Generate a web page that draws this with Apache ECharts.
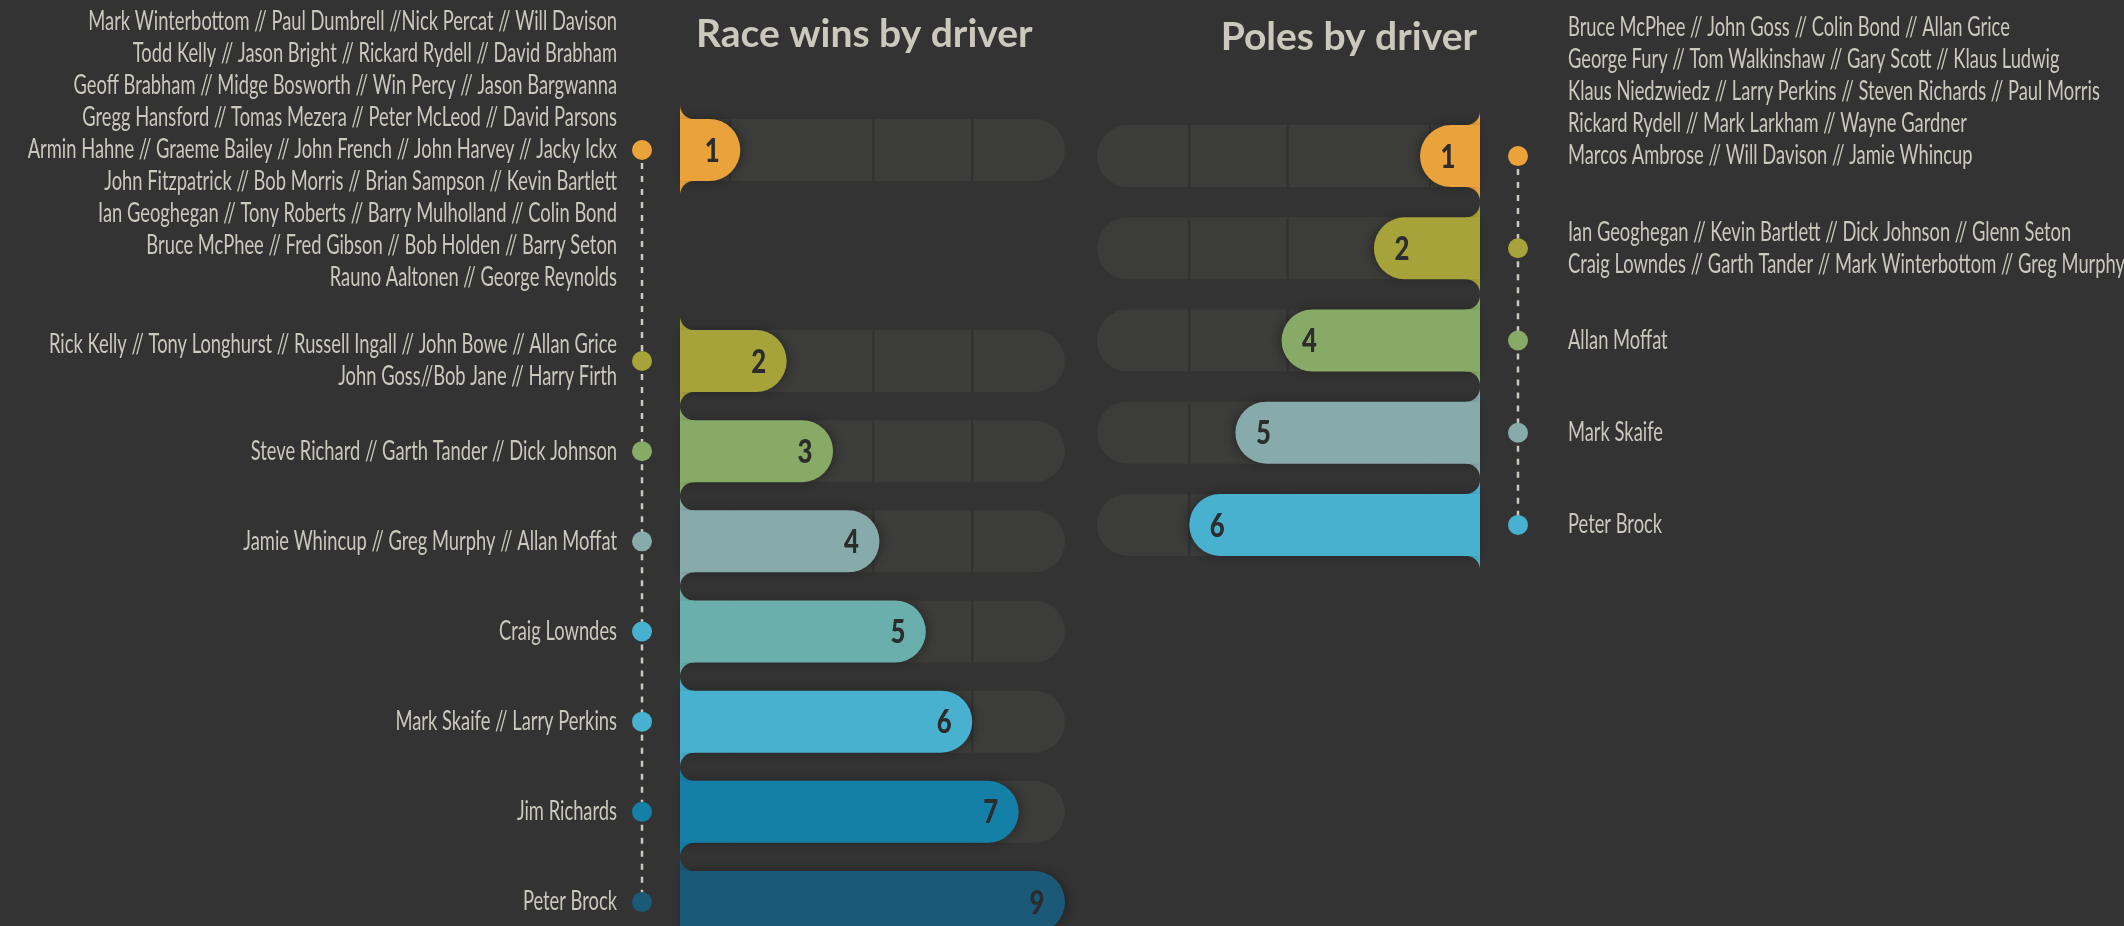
<!DOCTYPE html>
<html><head><meta charset="utf-8">
<script src="https://cdn.jsdelivr.net/npm/echarts@6/dist/echarts.min.js"></script>
<style>html,body{margin:0;padding:0;background:#333333;}#chart{width:2124px;height:926px;}</style>
</head><body><div id="chart"></div>
<script>
// ---------------- data ----------------
const winsCategories = ['1','2','3','4','5','6','7','9'];
const winsValues = [1,2,3,4,5,6,7,9];
const winsNames = [
  ['Mark Winterbottom // Paul Dumbrell //Nick Percat // Will Davison',
   'Todd Kelly // Jason Bright // Rickard Rydell // David Brabham',
   'Geoff Brabham // Midge Bosworth // Win Percy // Jason Bargwanna',
   'Gregg Hansford // Tomas Mezera // Peter McLeod // David Parsons',
   'Armin Hahne // Graeme Bailey // John French // John Harvey // Jacky Ickx',
   'John Fitzpatrick // Bob Morris // Brian Sampson // Kevin Bartlett',
   'Ian Geoghegan // Tony Roberts // Barry Mulholland // Colin Bond',
   'Bruce McPhee // Fred Gibson // Bob Holden // Barry Seton',
   'Rauno Aaltonen // George Reynolds'],
  ['Rick Kelly // Tony Longhurst // Russell Ingall // John Bowe // Allan Grice',
   'John Goss//Bob Jane // Harry Firth'],
  ['Steve Richard // Garth Tander // Dick Johnson'],
  ['Jamie Whincup // Greg Murphy // Allan Moffat'],
  ['Craig Lowndes'],
  ['Mark Skaife // Larry Perkins'],
  ['Jim Richards'],
  ['Peter Brock']
];
const polesCategories = ['1','2','4','5','6'];
const polesValues = [1,2,4,5,6];
const polesNames = [
  ['Bruce McPhee // John Goss // Colin Bond // Allan Grice',
   'George Fury // Tom Walkinshaw // Gary Scott // Klaus Ludwig',
   'Klaus Niedzwiedz // Larry Perkins // Steven Richards // Paul Morris',
   'Rickard Rydell // Mark Larkham // Wayne Gardner',
   'Marcos Ambrose // Will Davison // Jamie Whincup'],
  ['Ian Geoghegan // Kevin Bartlett // Dick Johnson // Glenn Seton',
   'Craig Lowndes // Garth Tander // Mark Winterbottom // Greg Murphy'],
  ['Allan Moffat'],
  ['Mark Skaife'],
  ['Peter Brock']
];
const titles = ['Race wins by driver', 'Poles by driver'];

// ---------------- styles ----------------
const ORANGE='#E9A33A', OLIVE='#A6A33A', GREEN='#87AA66', GRAYTEAL='#87AAAB',
      TEAL='#6AAFAC', LBLUE='#48B1D0', BLUE='#1480A7', DBLUE='#1B5978';
const winsBarColors = [ORANGE, OLIVE, GREEN, GRAYTEAL, TEAL, LBLUE, BLUE, DBLUE];
const winsDotColors = [ORANGE, OLIVE, GREEN, GRAYTEAL, LBLUE, LBLUE, BLUE, DBLUE];
const polesBarColors = [ORANGE, OLIVE, GREEN, GRAYTEAL, LBLUE];
const BG = '#333333', TRACK = '#3C3C3B', DIVIDER = '#313131', TEXT = '#CBC8BE';
const AX_MIN = -0.3, AX_MAX = 8;
const BAR_H = 62, FLARE_R = 14, DOT_GAP = 38, LINE_H = 32;
const NAME_FONT = 26, NAME_SCALE = 0.705;
const DIVIDERS = [0.78, 3.87, 6.0];

function flare(x0, yEdge, dir, vdir, r, color) {
  const cx = x0 + dir * r, cy = yEdge + vdir * r;
  const pts = [[x0, yEdge - vdir * 1], [x0 + dir * r, yEdge - vdir * 1]];
  const N = 16;
  for (let k = 0; k <= N; k++) {
    const a = (Math.PI / 2) * k / N;
    pts.push([cx - dir * r * Math.sin(a), cy - vdir * r * Math.cos(a)]);
  }
  return { type: 'polygon', shape: { points: pts }, style: { fill: color } };
}

function barRenderer(colors) {
  return function (params, api) {
    const v = api.value(0), idx = api.value(1);
    const p0 = api.coord([AX_MIN, idx]);
    const pMax = api.coord([AX_MAX, idx]);
    const pEnd = api.coord([Math.min(v, AX_MAX), idx]);
    const dir = pMax[0] > p0[0] ? 1 : -1;
    const yc = p0[1], R = BAR_H / 2, yt = yc - R, yb = yc + R;
    const color = colors[params.dataIndex];
    const ch = [];
    ch.push({ type: 'rect', shape: { x: Math.min(p0[0], pMax[0]), y: yt, width: Math.abs(pMax[0] - p0[0]), height: BAR_H,
      r: dir > 0 ? [0, R, R, 0] : [R, 0, 0, R] }, style: { fill: TRACK } });
    DIVIDERS.forEach(function (d) {
      const x = api.coord([d, idx])[0];
      ch.push({ type: 'line', shape: { x1: x, y1: yt, x2: x, y2: yb }, style: { stroke: DIVIDER, lineWidth: 2 } });
    });
    ch.push(flare(p0[0], yt, dir, -1, FLARE_R, color));
    ch.push(flare(p0[0], yb, dir, 1, FLARE_R, color));
    ch.push({ type: 'rect', shape: { x: Math.min(p0[0], pEnd[0]), y: yt, width: Math.abs(pEnd[0] - p0[0]), height: BAR_H,
      r: dir > 0 ? [0, R, R, 0] : [R, 0, 0, R] },
      style: { fill: color, shadowBlur: 10, shadowOffsetX: 3 * dir, shadowColor: 'rgba(0,0,0,0.28)' } });
    ch.push({ type: 'text', x: pEnd[0] - dir * 28, y: yc + 1, scaleX: 0.78,
      style: { text: String(v), fill: '#2C2C2C', fontFamily: 'Lato', fontWeight: 900, fontSize: 33,
        align: 'center', verticalAlign: 'middle' } });
    return { type: 'group', children: ch };
  };
}

function nameRenderer(names, dotColors, tallAnchor, textGap) {
  return function (params, api) {
    const i = params.dataIndex, idx = api.value(1);
    const p0 = api.coord([AX_MIN, idx]);
    const pMax = api.coord([AX_MAX, idx]);
    const dir = pMax[0] > p0[0] ? 1 : -1;
    const yc = p0[1];
    const xDot = p0[0] - dir * DOT_GAP, xText = p0[0] - dir * textGap;
    const lines = names[i];
    const ch = [];
    if (i < names.length - 1) {
      const pn = api.coord([AX_MIN, idx + 1]);
      ch.push({ type: 'line', shape: { x1: xDot, y1: yc, x2: xDot, y2: pn[1] },
        style: { stroke: TEXT, lineWidth: 2.5, lineDash: [6, 7] } });
    }
    ch.push({ type: 'circle', shape: { cx: xDot, cy: yc, r: 10 }, style: { fill: dotColors[i] } });
    const va = (tallAnchor === 'bottom' && lines.length > 2) ? 'bottom' : 'middle';
    ch.push({ type: 'text', x: xText, y: va === 'bottom' ? yc + LINE_H / 2 : yc, scaleX: NAME_SCALE,
      style: { text: lines.join('\n'), fill: TEXT, fontFamily: 'Lato', fontSize: NAME_FONT, lineHeight: LINE_H,
        align: dir > 0 ? 'right' : 'left', verticalAlign: va } });
    return { type: 'group', children: ch };
  };
}

const chart = echarts.init(document.getElementById('chart'), null, { renderer: 'canvas' });
const hiddenX = { type: 'value', min: AX_MIN, max: AX_MAX, show: false };
const topCats = winsCategories.slice(0, 1), restCats = winsCategories.slice(1);
const topVals = winsValues.slice(0, 1), restVals = winsValues.slice(1);

chart.setOption({
  backgroundColor: BG,
  animation: false,
  title: [
    { text: titles[0], left: 691, top: 10, textStyle: { color: TEXT, fontFamily: 'Lato', fontWeight: 'bold', fontSize: 39 } },
    { text: titles[1], right: 642, top: 13, textStyle: { color: TEXT, fontFamily: 'Lato', fontWeight: 'bold', fontSize: 39 } }
  ],
  grid: [
    { left: 680, width: 385, top: 119, height: 62 },
    { left: 680, width: 385, top: 361, height: 541 },
    { left: 1097, width: 383, top: 110, height: 461 }
  ],
  xAxis: [
    Object.assign({ gridIndex: 0 }, hiddenX),
    Object.assign({ gridIndex: 1 }, hiddenX),
    Object.assign({ gridIndex: 2, inverse: true }, hiddenX)
  ],
  yAxis: [
    { gridIndex: 0, type: 'category', data: topCats, inverse: true, show: false },
    { gridIndex: 1, type: 'category', data: restCats, inverse: true, boundaryGap: false, show: false },
    { gridIndex: 2, type: 'category', data: polesCategories, inverse: true, show: false }
  ],
  series: [
    { type: 'custom', xAxisIndex: 0, yAxisIndex: 0, z: 5, renderItem: barRenderer(winsBarColors.slice(0, 1)),
      data: topVals.map(function (v, k) { return [v, k]; }), encode: { x: 0, y: 1 } },
    { type: 'custom', xAxisIndex: 1, yAxisIndex: 1, z: 5, renderItem: barRenderer(winsBarColors.slice(1)),
      data: restVals.map(function (v, k) { return [v, k]; }), encode: { x: 0, y: 1 } },
    { type: 'custom', xAxisIndex: 2, yAxisIndex: 2, z: 5, renderItem: barRenderer(polesBarColors),
      data: polesValues.map(function (v, k) { return [v, k]; }), encode: { x: 0, y: 1 } },
    { type: 'custom', xAxisIndex: 0, yAxisIndex: 0, z: 5, renderItem: nameRenderer(winsNames.slice(0, 1), winsDotColors.slice(0, 1), 'middle', 63),
      data: topVals.map(function (v, k) { return [AX_MIN, k]; }), encode: { x: 0, y: 1 } },
    { type: 'custom', xAxisIndex: 1, yAxisIndex: 1, z: 5, renderItem: nameRenderer(winsNames.slice(1), winsDotColors.slice(1), 'middle', 63),
      data: restVals.map(function (v, k) { return [AX_MIN, k]; }), encode: { x: 0, y: 1 } },
    { type: 'custom', xAxisIndex: 2, yAxisIndex: 2, z: 5, renderItem: nameRenderer(polesNames, polesBarColors, 'bottom', 88),
      data: polesValues.map(function (v, k) { return [AX_MIN, k]; }), encode: { x: 0, y: 1 } }
  ]
});

// connector between rank-1 dot (grid 0) and the first dot of grid 1
const a = chart.convertToPixel({ gridIndex: 0 }, [AX_MIN, 0]);
const b = chart.convertToPixel({ gridIndex: 1 }, [AX_MIN, 0]);
chart.setOption({
  graphic: [{ type: 'line', z: 0, shape: { x1: a[0] - DOT_GAP, y1: a[1], x2: b[0] - DOT_GAP, y2: b[1] },
    style: { stroke: TEXT, lineWidth: 2.5, lineDash: [6, 7] } }]
});
</script></body></html>
